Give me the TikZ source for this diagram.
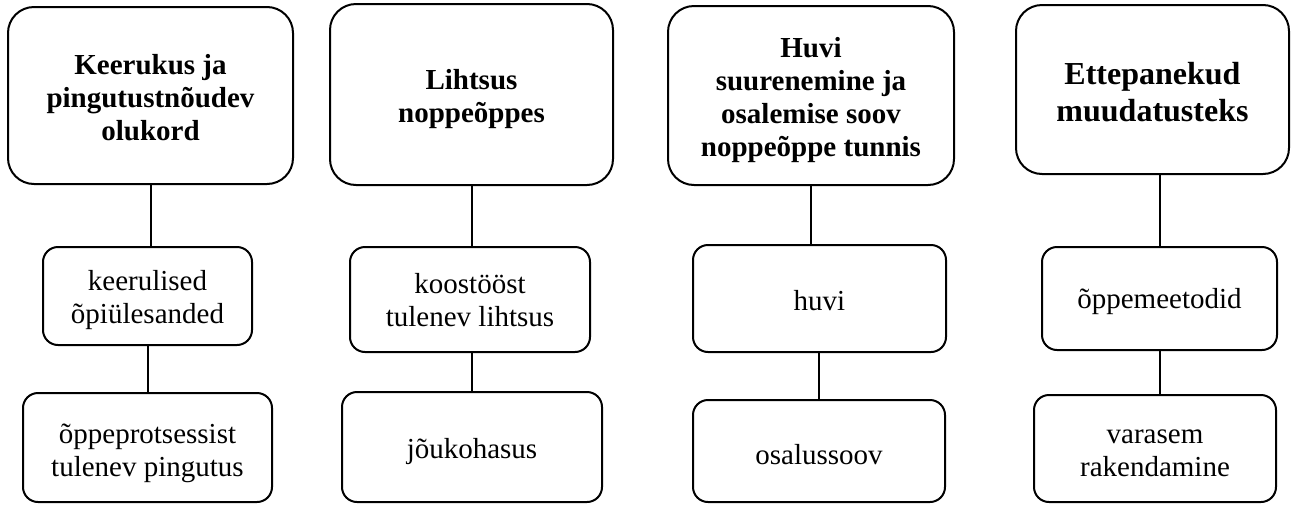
\documentclass[tikz,border=0pt]{standalone}
\usepackage{fontspec}
\setmainfont{Liberation Serif}
\usetikzlibrary{calc}
\begin{document}
\begin{tikzpicture}[x=1pt,y=-1pt,
  box/.style={draw, line width=2pt, inner sep=0pt, outer sep=0pt},
  head/.style={box, rounded corners=26pt},
  sub/.style={box, rounded corners=15pt},
  htxt/.style={align=center, inner sep=0pt, font=\fontsize{29}{33}\selectfont\bfseries},
  stxt/.style={align=center, inner sep=0pt, font=\fontsize{29}{33}\selectfont},
  link/.style={line width=2pt}]
\useasboundingbox (0,0) rectangle (1291,504);
% column 1
\node[head, minimum width=285pt, minimum height=177pt] (t1) at (150.5,95.5) {};
\node[htxt] (t1x) at ($(t1.center)+(0,2)$) {Keerukus ja\\pingutustnõudev\\olukord};
\node[sub, minimum width=209pt, minimum height=98pt] (m1) at (147.5,296) {};
\node[stxt] (m1x) at ($(m1.center)+(0,4)$) {keerulised\\õpiülesanded};
\node[sub, minimum width=249pt, minimum height=109pt] (b1) at (147.5,447.5) {};
\node[stxt] (b1x) at ($(b1.center)+(0,6)$) {õppeprotsessist\\tulenev pingutus};
% column 2
\node[head, minimum width=283pt, minimum height=181pt] (t2) at (471.5,94.5) {};
\node[htxt] (t2x) at ($(t2.center)+(0,5)$) {Lihtsus\\noppeõppes};
\node[sub, minimum width=240pt, minimum height=105pt] (m2) at (470,299.5) {};
\node[stxt] (m2x) at ($(m2.center)+(0,1)$) {koostööst\\tulenev lihtsus};
\node[sub, minimum width=260pt, minimum height=110pt] (b2) at (472,447) {};
\node[stxt] (b2x) at ($(b2.center)+(0,5)$) {jõukohasus};
% column 3
\node[head, minimum width=286pt, minimum height=179pt] (t3) at (811,95.5) {};
\node[htxt] (t3x) at ($(t3.center)+(0,5)$) {Huvi\\suurenemine ja\\osalemise soov\\noppeõppe tunnis};
\node[sub, minimum width=253pt, minimum height=107pt] (m3) at (819.5,298.5) {};
\node[stxt] (m3x) at ($(m3.center)+(0,2)$) {huvi};
\node[sub, minimum width=252pt, minimum height=102pt] (b3) at (819,451) {};
\node[stxt] (b3x) at ($(b3.center)+(0,4)$) {osalussoov};
% column 4
\node[head, minimum width=273pt, minimum height=169pt] (t4) at (1152.5,89.5) {};
\node[htxt, font=\fontsize{32}{37}\selectfont\bfseries] (t4x) at ($(t4.center)+(0,3)$) {Ettepanekud\\muudatusteks};
\node[sub, minimum width=235pt, minimum height=103pt] (m4) at (1159.5,298.5) {};
\node[stxt] (m4x) at ($(m4.center)+(0,3)$) {õppemeetodid};
\node[sub, minimum width=242pt, minimum height=107pt] (b4) at (1155,448.5) {};
\node[stxt] (b4x) at ($(b4.center)+(0,5)$) {varasem\\rakendamine};
% connectors
\draw[link] (t1.south) -- (t1.south |- m1.north);
\draw[link] (m1.south) -- (m1.south |- b1.north);
\draw[link] (t2.south) -- (t2.south |- m2.north);
\draw[link] (b2.north) -- (b2.north |- m2.south);
\draw[link] (t3.south) -- (t3.south |- m3.north);
\draw[link] (b3.north) -- (b3.north |- m3.south);
\draw[link] (m4.north) -- (m4.north |- t4.south);
\draw[link] (m4.south) -- (m4.south |- b4.north);
\end{tikzpicture}
\end{document}
